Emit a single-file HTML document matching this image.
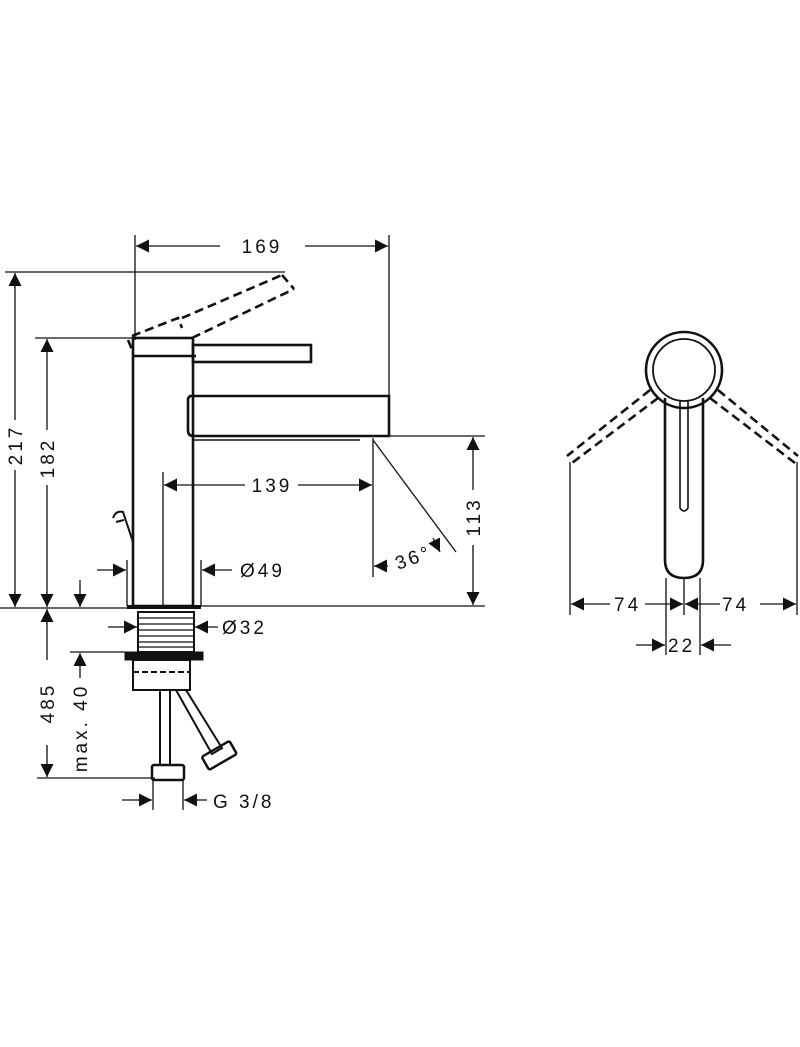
<!DOCTYPE html>
<html><head><style>body{margin:0;background:#fff}svg{display:block}text{font-family:"Liberation Sans",sans-serif;font-size:19px;fill:#111;letter-spacing:3px}</style></head>
<body>
<svg width="800" height="1047" viewBox="0 0 800 1047" xmlns="http://www.w3.org/2000/svg">
<defs>
<marker id="a" viewBox="0 0 10 10" refX="10" refY="5" markerWidth="13" markerHeight="13" markerUnits="userSpaceOnUse" orient="auto"><path d="M0,0L10,5L0,10z" fill="#111"/></marker>
</defs>
<g stroke="#111" stroke-width="1.3" fill="none">
<line x1="135" y1="235" x2="135" y2="340"/><line x1="389" y1="235" x2="389" y2="436"/>
<line x1="220" y1="246" x2="136" y2="246" marker-end="url(#a)"/><line x1="305" y1="246" x2="388" y2="246" marker-end="url(#a)"/>
<line x1="5" y1="272" x2="285" y2="272"/><line x1="35" y1="338" x2="132" y2="338"/>
<line x1="15" y1="420" x2="15" y2="273" marker-end="url(#a)"/><line x1="15" y1="470" x2="15" y2="607" marker-end="url(#a)"/>
<line x1="47" y1="430" x2="47" y2="339" marker-end="url(#a)"/><line x1="47" y1="485" x2="47" y2="607" marker-end="url(#a)"/>
<line x1="0" y1="608" x2="127" y2="608"/><line x1="201" y1="606" x2="485" y2="606"/>
<line x1="80" y1="580" x2="80" y2="607" marker-end="url(#a)"/>
<line x1="47" y1="660" x2="47" y2="609" marker-end="url(#a)"/><line x1="47" y1="745" x2="47" y2="777" marker-end="url(#a)"/>
<line x1="37" y1="778" x2="155" y2="778"/>
<line x1="70" y1="652" x2="125" y2="652"/>
<line x1="80" y1="678" x2="80" y2="653" marker-end="url(#a)"/>
<line x1="153" y1="780" x2="153" y2="810"/><line x1="183" y1="780" x2="183" y2="810"/>
<line x1="122" y1="800" x2="152" y2="800" marker-end="url(#a)"/><line x1="207" y1="800" x2="184" y2="800" marker-end="url(#a)"/>
<line x1="127" y1="560" x2="127" y2="606"/><line x1="201" y1="560" x2="201" y2="606"/>
<line x1="97" y1="570" x2="126" y2="570" marker-end="url(#a)"/><line x1="232" y1="570" x2="202" y2="570" marker-end="url(#a)"/>
<line x1="108" y1="627" x2="137" y2="627" marker-end="url(#a)"/><line x1="218" y1="627" x2="195" y2="627" marker-end="url(#a)"/>
<line x1="163" y1="472" x2="163" y2="606"/><line x1="373" y1="438" x2="373" y2="577"/>
<line x1="245" y1="485" x2="164" y2="485" marker-end="url(#a)"/><line x1="298" y1="485" x2="372" y2="485" marker-end="url(#a)"/>
<line x1="373" y1="440" x2="456" y2="552"/>
<line x1="388" y1="566" x2="374" y2="566" marker-end="url(#a)"/>
<line x1="433" y1="538" x2="440" y2="552" marker-end="url(#a)"/>
<line x1="375" y1="436" x2="485" y2="436"/>
<line x1="473" y1="490" x2="473" y2="437" marker-end="url(#a)"/><line x1="473" y1="545" x2="473" y2="605" marker-end="url(#a)"/>
</g>
<g stroke="#111" stroke-width="2.6" fill="none">
<rect x="133" y="338" width="60" height="268"/>
<line x1="133" y1="356" x2="196" y2="356"/>
<rect x="193" y="345" width="118" height="17"/>
<path d="M189,396H389V436H193Q188,436 188,430V400Q188,396 192,396"/>
<line x1="193" y1="440" x2="360" y2="440" stroke-width="1.5"/>
<path d="M113,518Q116,510 123,512L133,542M116,522L124,520" stroke-width="2"/>
<line x1="127" y1="607" x2="201" y2="607" stroke-width="4"/>
<rect x="138" y="612" width="56" height="40" stroke-width="2"/>
<rect x="125" y="652" width="78" height="8" fill="#111" stroke-width="1"/>
<rect x="133" y="660" width="57" height="30" stroke-width="2"/>
<line x1="133" y1="672" x2="190" y2="672" stroke-dasharray="6 3" stroke-width="2"/>
<rect x="160" y="690" width="10" height="75" stroke-width="2"/>
<rect x="152" y="765" width="32" height="15" rx="2" stroke-width="2.5"/>
<path d="M176,690L186,690L222,748L212,754Z" stroke-width="2"/>
<rect x="203" y="748" width="32" height="15" rx="2" transform="rotate(-30 219 755)" stroke-width="2.5"/>
</g>
<g stroke="#111" stroke-width="1.2">
<line x1="138" y1="618" x2="194" y2="618"/><line x1="138" y1="624" x2="194" y2="624"/><line x1="138" y1="630" x2="194" y2="630"/><line x1="138" y1="636" x2="194" y2="636"/><line x1="138" y1="642" x2="194" y2="642"/><line x1="138" y1="647" x2="194" y2="647"/>
</g>
<g stroke="#111" stroke-width="2.6" fill="none" stroke-dasharray="9 5">
<path d="M132,336L178,318L182,328"/>
<line x1="192" y1="338" x2="294" y2="289"/>
<line x1="182" y1="318" x2="282" y2="275"/>
<line x1="282" y1="275" x2="294" y2="289"/>
<path d="M128,340L133,352"/>
</g>
<g stroke="#111" stroke-width="2.6" fill="none">
<circle cx="684" cy="370" r="38"/><circle cx="684" cy="370" r="31" stroke-width="1.8"/>
<path d="M665,398V560Q665,578 684,578Q703,578 703,560V398"/>
<path d="M680,400V508Q684,514 688,508V400" stroke-width="1.6"/>
<g stroke-dasharray="9 5">
<line x1="650" y1="390" x2="567" y2="456"/><line x1="658" y1="398" x2="572" y2="463"/>
<line x1="718" y1="390" x2="798" y2="456"/><line x1="710" y1="398" x2="795" y2="463"/>
</g>
</g>
<g stroke="#111" stroke-width="1.3" fill="none">
<line x1="570" y1="462" x2="570" y2="615"/><line x1="797" y1="462" x2="797" y2="615"/>
<line x1="666" y1="578" x2="666" y2="655"/><line x1="684" y1="578" x2="684" y2="615"/><line x1="700" y1="578" x2="700" y2="655"/>
<line x1="610" y1="604" x2="571" y2="604" marker-end="url(#a)"/><line x1="645" y1="604" x2="683" y2="604" marker-end="url(#a)"/>
<line x1="720" y1="604" x2="685" y2="604" marker-end="url(#a)"/><line x1="760" y1="604" x2="796" y2="604" marker-end="url(#a)"/>
<line x1="636" y1="645" x2="665" y2="645" marker-end="url(#a)"/><line x1="731" y1="645" x2="701" y2="645" marker-end="url(#a)"/>
</g>
<text x="262" y="253" text-anchor="middle">169</text>
<text x="272" y="492" text-anchor="middle">139</text>
<text x="240" y="577">Ø49</text>
<text x="222" y="634">Ø32</text>
<text x="213" y="808">G 3/8</text>
<text x="614" y="611">74</text>
<text x="722" y="611">74</text>
<text x="668" y="652">22</text>
<text transform="translate(398,570) rotate(-20)">36°</text>
<text transform="translate(22,445) rotate(-90)" text-anchor="middle">217</text>
<text transform="translate(54,458) rotate(-90)" text-anchor="middle">182</text>
<text transform="translate(54,703) rotate(-90)" text-anchor="middle">485</text>
<text transform="translate(87,728) rotate(-90)" text-anchor="middle">max. 40</text>
<text transform="translate(480,517) rotate(-90)" text-anchor="middle">113</text>
</svg>
</body></html>
